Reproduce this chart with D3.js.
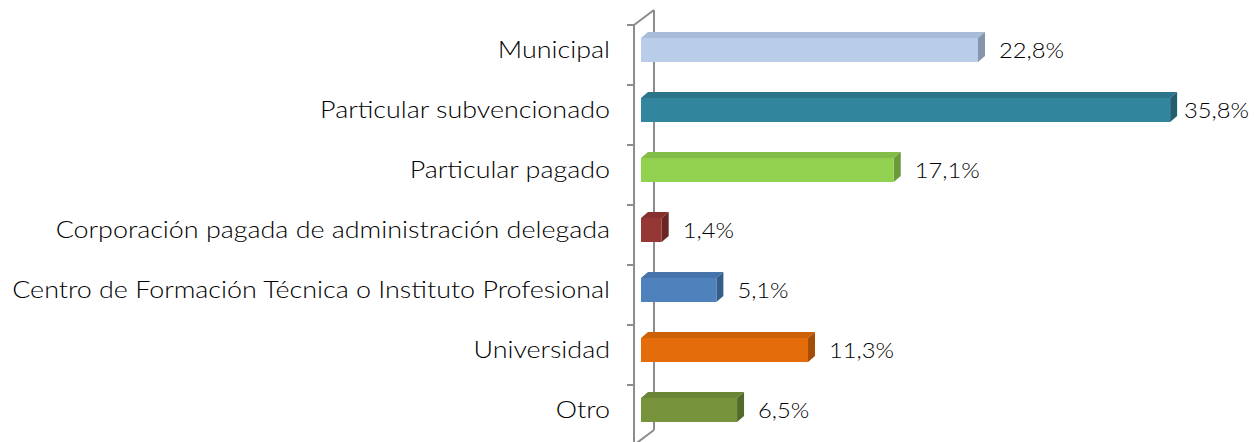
<!DOCTYPE html>
<html><head><meta charset="utf-8">
<script src="https://cdn.jsdelivr.net/npm/d3@7"></script>
<style>body{margin:0;background:#fff;} svg{display:block;}</style>
</head><body>
<svg id="c" width="1254" height="442"></svg>
<script>
const categories = ["Municipal","Particular subvencionado","Particular pagado","Corporación pagada de administración delegada","Centro de Formación Técnica o Instituto Profesional","Universidad","Otro"];
const values = [22.8, 35.8, 17.1, 1.4, 5.1, 11.3, 6.5];
const valueLabels = ["22,8%","35,8%","17,1%","1,4%","5,1%","11,3%","6,5%"];
const frontColors = ["#B9CDE9","#31859C","#92D050","#953735","#4F81BD","#E46C0A","#77933C"];
const topColors   = ["#A7BCD8","#2B7489","#83BC47","#86302F","#4573AA","#CD6108","#6A8535"];
const sideColors  = ["#8495AC","#225E6F","#6B9A3A","#6A2624","#375D89","#A44D06","#546A2A"];

const svg = d3.select("#c");
const FONT = "Lato, 'DejaVu Sans', sans-serif";
const x = d3.scaleLinear().domain([0, 40]).range([641, 641 + 40 * 14.78]);
const y = d3.scaleBand().domain(categories).range([25, 445]);
const dx = 7, dy = -6, bh = 24, off = 13;
const axisX = 634, wdx = 20, wdy = -15;
const grey = "#8C8C8C";

// wall / axis lines
const g = svg.append("g");
g.append("line").attr("x1", axisX + wdx).attr("x2", axisX + wdx).attr("y1", 25 + wdy).attr("y2", 445 + wdy).attr("stroke", grey).attr("stroke-width", 2);
g.append("line").attr("x1", axisX).attr("x2", axisX + wdx).attr("y1", 25).attr("y2", 25 + wdy).attr("stroke", grey).attr("stroke-width", 2);
g.append("line").attr("x1", axisX).attr("x2", axisX + wdx).attr("y1", 445).attr("y2", 445 + wdy).attr("stroke", grey).attr("stroke-width", 2);
g.append("line").attr("x1", axisX).attr("x2", axisX).attr("y1", 25).attr("y2", 445).attr("stroke", grey).attr("stroke-width", 2);
const tickYs = categories.map(c => y(c)).concat([y.range()[1]]);
g.selectAll(".tk").data(tickYs).join("line").attr("x1", axisX - 7).attr("x2", axisX).attr("y1", d => d).attr("y2", d => d).attr("stroke", grey).attr("stroke-width", 2);

// bars
const bars = svg.append("g").selectAll("g").data(categories).join("g");
const vsx = 1.08;
bars.each(function(c, i) {
  const gg = d3.select(this);
  const x0 = x(0), x1 = x(values[i]), yt = y(c) + off, yb = yt + bh;
  gg.append("polygon").attr("points", [[x0, yt], [x0 + dx, yt + dy], [x1 + dx, yt + dy], [x1, yt]].join(" ")).attr("fill", topColors[i]);
  gg.append("polygon").attr("points", [[x1, yt], [x1 + dx, yt + dy], [x1 + dx, yb + dy], [x1, yb]].join(" ")).attr("fill", sideColors[i]);
  gg.append("rect").attr("x", x0).attr("y", yt).attr("width", x1 - x0).attr("height", bh).attr("fill", frontColors[i]);
  const tg = gg.append("g");
  const t = tg.append("text").attr("font-family", FONT).attr("font-weight", 300).attr("font-size", 22).attr("fill", "#000").text(valueLabels[i]);
  const w = t.node().getComputedTextLength() * vsx;
  const lx = Math.min(x1 + dx + 14, 1249 - w);
  tg.attr("transform", `translate(${lx},${yt + bh / 2 + 8}) scale(${vsx},1)`);
});

// category labels
const lg = svg.append("g").selectAll("g").data(categories).join("g");
const labels = lg.append("text").attr("text-anchor", "end")
  .attr("font-family", FONT).attr("font-weight", 300).attr("font-size", 23).attr("fill", "#000").text(c => c);
let maxW = 0;
labels.each(function() { maxW = Math.max(maxW, this.getComputedTextLength()); });
const sx = 598 / maxW;
lg.attr("transform", c => `translate(610,${y(c) + off + bh / 2 + 8}) scale(${sx},1)`);
</script>
</body></html>
